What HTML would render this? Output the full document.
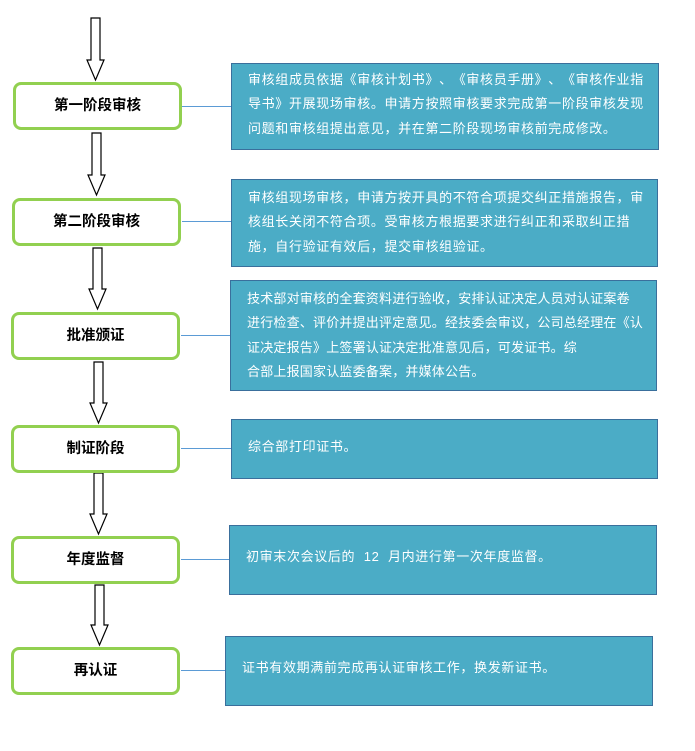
<!DOCTYPE html>
<html><head><meta charset="utf-8"><style>
body{margin:0;width:695px;height:751px;background:#fff;position:relative;overflow:hidden;font-family:"Liberation Sans","Noto Sans CJK SC",sans-serif}
.n{position:absolute;width:163px;height:42px;border:3px solid #92d050;border-radius:8px;background:#fff;font-weight:bold;font-size:14.5px;line-height:42px;text-align:center;color:#000}
.b{position:absolute;background:#4bacc6;border:1px solid #3a6f9c;color:#fff;font-size:13px;letter-spacing:0.65px;line-height:24.3px;white-space:nowrap;box-sizing:border-box;padding-left:16px;text-spacing-trim:space-all;font-kerning:none}
svg{position:absolute;left:0;top:0}
</style></head><body>
<svg width="695" height="751">
<g fill="#fff" stroke="#000" stroke-width="1.2">
<path d="M91 18H100V60H104L95.5 80L87 60H91Z"/>
<path d="M92 133H101V175H105L96.5 195L88 175H92Z"/>
<path d="M93 248H102V289H106L97.5 309L89 289H93Z"/>
<path d="M94 362H103V403H107L98.5 423L90 403H94Z"/>
<path d="M94 473H103V514H107L98.5 534L90 514H94Z"/>
<path d="M95 585H104V625H108L99.5 645L91 625H95Z"/>
</g>
<g stroke="#5b9bd5" stroke-width="1">
<line x1="182" y1="106.5" x2="231" y2="106.5"/>
<line x1="182" y1="221.5" x2="231" y2="221.5"/>
<line x1="181" y1="335.5" x2="230" y2="335.5"/>
<line x1="181" y1="448.5" x2="231" y2="448.5"/>
<line x1="181" y1="559.5" x2="229" y2="559.5"/>
<line x1="181" y1="670.5" x2="225" y2="670.5"/>
</g>
</svg>
<div class="n" style="left:13px;top:82px">第一阶段审核</div>
<div class="n" style="left:12px;top:198px">第二阶段审核</div>
<div class="n" style="left:11px;top:312px">批准颁证</div>
<div class="n" style="left:11px;top:425px">制证阶段</div>
<div class="n" style="left:11px;top:536px">年度监督</div>
<div class="n" style="left:11px;top:647px">再认证</div>

<div class="b" style="left:231px;top:63px;width:428px;height:87px;padding-top:4px">审核组成员依据《审核计划书》、《审核员手册》、《审核作业指<br>导书》开展现场审核。申请方按照审核要求完成第一阶段审核发现<br>问题和审核组提出意见，并在第二阶段现场审核前完成修改。</div>
<div class="b" style="left:231px;top:179px;width:427px;height:88px;padding-top:6px">审核组现场审核，申请方按开具的不符合项提交纠正措施报告，审<br>核组长关闭不符合项。受审核方根据要求进行纠正和采取纠正措<br>施，自行验证有效后，提交审核组验证。</div>
<div class="b" style="left:230px;top:280px;width:427px;height:111px;padding-top:6px;letter-spacing:0.2px">技术部对审核的全套资料进行验收，安排认证决定人员对认证案卷<br>进行检查、评价并提出评定意见。经技委会审议，公司总经理在《认<br>证决定报告》上签署认证决定批准意见后，可发证书。综<br>合部上报国家认监委备案，并媒体公告。</div>
<div class="b" style="left:231px;top:419px;width:427px;height:60px;padding-top:15px">综合部打印证书。</div>
<div class="b" style="left:229px;top:525px;width:428px;height:70px;padding-top:19px">初审末次会议后的 &nbsp;12 &nbsp;月内进行第一次年度监督。</div>
<div class="b" style="left:225px;top:636px;width:428px;height:70px;padding-top:19px">证书有效期满前完成再认证审核工作，换发新证书。</div>
</body></html>
